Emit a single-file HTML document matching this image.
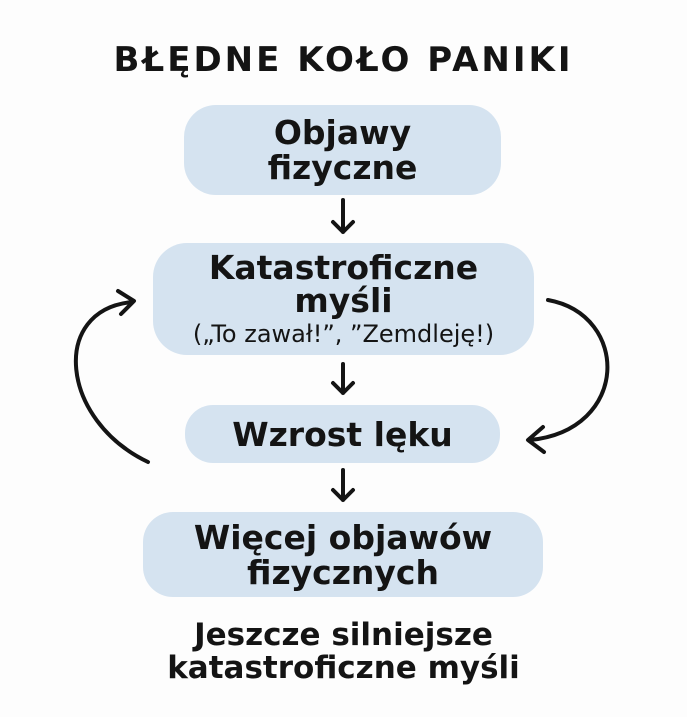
<!DOCTYPE html>
<html><head><meta charset="utf-8"><style>
body{margin:0;width:687px;height:717px;background:#fdfdfd;position:relative;font-family:"DejaVu Sans","Liberation Sans",sans-serif;color:#141414;overflow:hidden}
.t{position:absolute;left:0;width:687px;text-align:center;font-weight:bold}
.b{position:absolute;background:#d5e3f0;display:flex;flex-direction:column;align-items:center;justify-content:center;font-weight:bold;text-align:center;white-space:nowrap}
</style></head><body>
<div class="t" style="top:40px;font-size:34px;letter-spacing:3px">BŁĘDNE KOŁO PANIKI</div>
<div class="b" style="left:184px;top:105px;width:317px;height:90px;border-radius:32px;font-size:33px;line-height:35px">Objawy<br>fizyczne</div>
<div class="b" style="left:153px;top:243px;width:381px;height:112px;border-radius:34px;font-size:33px;line-height:33px"><div style="margin-top:4px">Katastroficzne<br>myśli</div><div style="font-weight:normal;font-size:24px;line-height:34px">(„To zawał!”, ”Zemdleję!)</div></div>
<div class="b" style="left:185px;top:405px;width:315px;height:58px;border-radius:28px;font-size:33px">Wzrost lęku</div>
<div class="b" style="left:143px;top:512px;width:400px;height:85px;border-radius:30px;font-size:33px;line-height:35px">Więcej objawów<br>fizycznych</div>
<div class="t" style="top:619px;font-size:31px;line-height:33px">Jeszcze silniejsze<br>katastroficzne myśli</div>
<svg width="687" height="717" style="position:absolute;left:0;top:0" fill="none" stroke="#141414" stroke-width="4" stroke-linecap="round" stroke-linejoin="round">
<path d="M343 200V232M333 222L343 232L353 222"/>
<path d="M343 364V393M333 383L343 393L353 383"/>
<path d="M343 470V500M333 490L343 500L353 490"/>
<path d="M148 462C60 420 50 310 132 302M118 291L134 301L121 314"/>
<path d="M548 300C630 315 630 430 530 440M543 427L528 440L544 452"/>
</svg>
</body></html>
